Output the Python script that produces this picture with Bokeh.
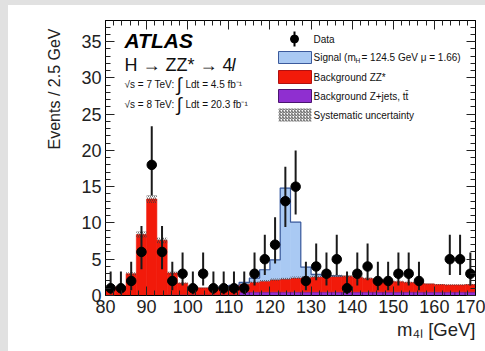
import numpy as np
from bokeh.plotting import figure
from bokeh.layouts import row, column
from bokeh.models import Range1d, LinearAxis, Label, FixedTicker, Title, Spacer
from bokeh.embed import file_html
from bokeh.resources import INLINE

# ---------------- data ----------------
bin_start = 80.0
bin_width = 2.5
n_bins = 36

data_counts = [1, 1, 2, 6, 18, 6, 2, 3, 1, 3, 1, 1, 1, 1, 3, 5, 7, 13, 15,
               2, 4, 3, 5, 1, 3, 4, 2, 2, 3, 3, 2, 0, 0, 5, 5, 3]
# Poisson (68%) interval ends per observed count
poisson_lo = {1: 0.17, 2: 0.71, 3: 1.37, 4: 2.09, 5: 2.84, 6: 3.62, 7: 4.42,
              13: 9.43, 15: 11.15, 18: 13.79}
poisson_hi = {1: 3.30, 2: 4.64, 3: 5.92, 4: 7.16, 5: 8.38, 6: 9.58, 7: 10.77,
              13: 17.73, 15: 19.97, 18: 23.33}

bkg_zjets = [0.05, 0.05, 0.05, 0.05, 0.05, 0.05, 0.15, 0.15, 0.15, 0.15, 0.15, 0.15,
             0.15, 0.5, 0.5, 0.5, 0.5, 0.5, 0.5, 0.5, 0.5, 0.5, 0.5, 0.5,
             0.5, 0.5, 0.5, 0.5, 0.5, 0.5, 0.5, 0.5, 0.5, 0.5, 0.5, 0.5]
bkg_zz = [1.05, 1.15, 2.95, 8.35, 13.25, 7.55, 2.95, 1.55, 1.0, 0.9, 0.85, 0.95,
          1.2, 1.1, 1.35, 1.5, 1.7, 1.8, 1.95, 2.0, 2.1, 2.15, 2.2, 2.15,
          2.0, 1.85, 1.7, 1.5, 1.4, 1.3, 1.2, 1.1, 1.0, 0.95, 0.95, 1.0]
signal = [0, 0, 0, 0, 0, 0, 0, 0, 0, 0, 0, 0.05,
          0.05, 0.2, 0.55, 1.55, 2.7, 12.5, 7.65, 1.4, 0.3, 0.1, 0, 0,
          0, 0, 0, 0, 0, 0, 0, 0, 0, 0, 0, 0]
syst = [0.08, 0.08, 0.2, 0.45, 0.55, 0.4, 0.2, 0.1, 0.08, 0.08, 0.07, 0.08,
        0.09, 0.1, 0.12, 0.13, 0.15, 0.15, 0.16, 0.16, 0.17, 0.17, 0.17, 0.17,
        0.16, 0.15, 0.14, 0.13, 0.12, 0.12, 0.11, 0.1, 0.1, 0.1, 0.1, 0.1]

x_ticks = [80, 90, 100, 110, 120, 130, 140, 150, 160, 170]
y_ticks = [0, 5, 10, 15, 20, 25, 30, 35]
x_minor = [80 + 2 * i for i in range(46)]
y_minor = list(range(0, 38))

x_title = "m\u2084\u2097 [GeV]"
y_title = "Events / 2.5 GeV"

XMIN, XMAX, YMIN, YMAX = 80, 170, 0, 37.9

# ---------------- derived ----------------
edges = [bin_start + bin_width * i for i in range(n_bins + 1)]
left = edges[:-1]
right = edges[1:]
centers = [e + bin_width / 2 for e in left]
zj_top = list(bkg_zjets)
bkg_top = [a + b for a, b in zip(bkg_zjets, bkg_zz)]
sig_top = [a + b for a, b in zip(bkg_top, signal)]

# page-pixel -> data helpers (frame: x 105..475, y 20..295 on the page)
FX0, FX1, FY0, FY1 = 105, 475, 295, 20
def px(x):
    return XMIN + (x - FX0) * (XMAX - XMIN) / (FX1 - FX0)
def py(y):
    return YMIN + (FY0 - y) * (YMAX - YMIN) / (FY0 - FY1)

FONT = "Liberation Sans"
RED = "#f21a0a"
BLUE = "#a9c9f3"
BLUE_EDGE = "#3b5a9c"
PURPLE = "#8f2fd0"
BEZEL = "#e1e1e1"

p = figure(width=477, height=346, output_backend="svg", toolbar_location=None,
           x_range=Range1d(XMIN, XMAX), y_range=Range1d(YMIN, YMAX),
           min_border_left=97, min_border_right=10, min_border_top=15,
           min_border_bottom=56)
p.xgrid.visible = False
p.ygrid.visible = False
p.outline_line_color = "black"
p.outline_line_width = 1
p.background_fill_color = "white"
p.border_fill_color = "white"

def style_axis(ax, ticks, minor, labels=True):
    ax.ticker = FixedTicker(ticks=ticks, minor_ticks=minor)
    ax.major_tick_in = 9
    ax.major_tick_out = 0
    ax.minor_tick_in = 5
    ax.minor_tick_out = 0
    ax.axis_line_color = "black"
    ax.major_tick_line_color = "#222222"
    ax.minor_tick_line_color = "#222222"
    ax.major_label_text_font = FONT
    ax.major_label_text_font_size = "18px"
    ax.major_label_text_color = "#222222"
    ax.major_label_standoff = 4
    if not labels:
        ax.major_label_overrides = {t: "" for t in ticks}
        ax.major_label_text_font_size = "1px"
        ax.major_label_standoff = 0

style_axis(p.xaxis[0], x_ticks, x_minor)
style_axis(p.yaxis[0], y_ticks, y_minor)
top_ax = LinearAxis()
style_axis(top_ax, x_ticks, x_minor, labels=False)
p.add_layout(top_ax, "above")
right_ax = LinearAxis()
style_axis(right_ax, y_ticks, y_minor, labels=False)
p.add_layout(right_ax, "right")

# axis titles (ROOT style, at the far end of each axis)
p.add_layout(Title(text=x_title, align="right", text_font=FONT, text_font_size="18.5px",
                   text_font_style="normal", text_color="#222222", standoff=2), "below")
p.add_layout(Title(text=y_title, align="right", text_font=FONT, text_font_size="16px",
                   text_font_style="normal", text_color="#222222", standoff=32,
                   offset=8), "left")

# ---------------- stacked histograms ----------------
p.quad(left=left, right=right, bottom=[0] * n_bins, top=zj_top,
       fill_color=PURPLE, line_color="#4a1470", line_width=0.8)
p.quad(left=left, right=right, bottom=zj_top, top=bkg_top,
       fill_color=RED, line_color=RED, line_width=0.6)
p.quad(left=left[11:23], right=right[11:23], bottom=bkg_top[11:23], top=sig_top[11:23],
       fill_color=BLUE, line_color=BLUE, line_width=0.6)
sx = [edges[11]] + edges[11:24]
sy = [bkg_top[11]] + sig_top[11:23] + [bkg_top[23]]
p.step(x=sx, y=sy, mode="after", line_color=BLUE_EDGE, line_width=1.2)

# systematic uncertainty band
p.quad(left=left, right=right,
       bottom=[b - s for b, s in zip(bkg_top, syst)],
       top=[b + s for b, s in zip(bkg_top, syst)],
       fill_alpha=0, line_color=None, hatch_pattern="/", hatch_color="#3a3a3a",
       hatch_alpha=0.9, hatch_scale=4, hatch_weight=0.8)

# ---------------- data points ----------------
dx = [c for c, n in zip(centers, data_counts) if n > 0]
dn = [n for n in data_counts if n > 0]
dlo = [poisson_lo[n] for n in dn]
dhi = [poisson_hi[n] for n in dn]
p.segment(x0=dx, y0=dlo, x1=dx, y1=dhi, line_color="#1a1a1a", line_width=2)
p.scatter(x=dx, y=dn, size=9.5, marker="circle", fill_color="black", line_color="black")

# ---------------- legend (drawn by hand) ----------------
lx0, lx1 = px(278), px(311)
p.segment(x0=[px(294)], y0=[py(31)], x1=[px(294)], y1=[py(46)], line_color="black", line_width=2)
p.scatter(x=[px(294)], y=[py(38.5)], size=8, marker="circle", color="black")
p.quad(left=[lx0], right=[lx1], top=[py(51)], bottom=[py(63)], fill_color=BLUE,
       line_color=BLUE_EDGE, line_width=1)
p.quad(left=[lx0], right=[lx1], top=[py(70)], bottom=[py(83)], fill_color=RED,
       line_color="#b01010", line_width=1)
p.quad(left=[lx0], right=[lx1], top=[py(89)], bottom=[py(102)], fill_color=PURPLE,
       line_color="#4a1470", line_width=1)
p.quad(left=[lx0], right=[lx1], top=[py(108)], bottom=[py(121)], fill_color="white",
       fill_alpha=0, line_color=None, hatch_pattern="/", hatch_color="#555555",
       hatch_scale=3, hatch_weight=1)

def lab(x, y, text, size, align="left", baseline="middle", style="normal",
        angle=0, color="#111111"):
    p.add_layout(Label(x=px(x), y=py(y), text=text, text_font=FONT,
                       text_font_size=f"{size}px", text_align=align,
                       text_baseline=baseline, text_font_style=style,
                       text_color=color, angle=angle, angle_units="deg"))

lab(313, 38.5, "Data", 10)
lab(313, 57, "Signal (m", 10)
lab(355, 60, "H", 6.5)
lab(361, 57, "= 124.5 GeV  \u03bc = 1.66)", 10)
lab(313, 76.5, "Background ZZ*", 10)
lab(313, 95.5, "Background Z+jets, tt\u0304", 10)
lab(313, 115, "Systematic uncertainty", 10)

# ---------------- left texts ----------------
lab(124, 40, "ATLAS", 21, style="bold italic", color="black")
lab(124, 64, "H \u2192 ZZ* \u2192 4", 18)
lab(231, 64, "l", 18, style="italic")
lab(124, 84, "\u221as = 7 TeV:", 10)
lab(176, 84, "\u222b", 19)
lab(185, 84, "Ldt = 4.5 fb\u207b\u00b9", 10)
lab(124, 104, "\u221as = 8 TeV:", 10)
lab(176, 104, "\u222b", 19)
lab(185, 104, "Ldt = 20.3 fb\u207b\u00b9", 10)

# light grey screenshot bezel on the top and left edges
top_strip = Spacer(width=485, height=5, styles={"background-color": BEZEL})
left_strip = Spacer(width=8, height=346, styles={"background-color": BEZEL})
layout = column(top_strip, row(left_strip, p, spacing=0), spacing=0)

open("out.html", "w").write(file_html(layout, INLINE))
